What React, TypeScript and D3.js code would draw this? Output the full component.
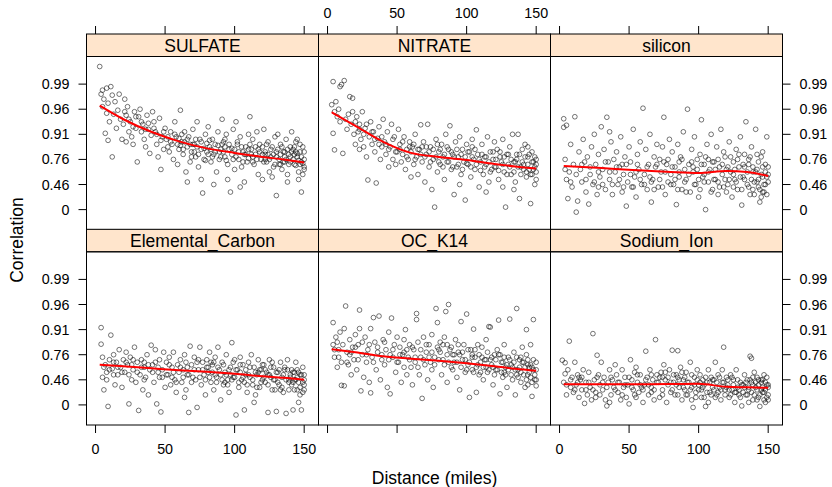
import React from "react";
import * as d3 from "d3";

// Distance (miles) vs Fisher-z of the correlation, one list per species
const panelNames = ["SULFATE", "NITRATE", "silicon", "Elemental_Carbon", "OC_K14", "Sodium_Ion"];
const distanceTicks = [0, 50, 100, 150];
const zTicks = [0, 0.5, 1, 1.5, 2, 2.5];
const zTickLabels = ["0", "0.46", "0.76", "0.91", "0.96", "0.99"];

// smoother
const smoothX = [3, 20, 40, 60, 80, 100, 120, 135, 150];
const sulfateSmooth = [2.07, 1.8, 1.55, 1.36, 1.22, 1.13, 1.05, 1.0, 0.94];
const nitrateSmooth = [1.94, 1.67, 1.35, 1.13, 1.05, 0.99, 0.91, 0.86, 0.82];
const siliconSmooth = [0.87, 0.845, 0.81, 0.78, 0.75, 0.73, 0.77, 0.75, 0.67];
const ecSmooth = [0.8, 0.77, 0.73, 0.69, 0.66, 0.62, 0.57, 0.54, 0.5];
const ocSmooth = [1.11, 1.05, 0.97, 0.92, 0.88, 0.83, 0.77, 0.72, 0.68];
const sodiumSmooth = [0.41, 0.41, 0.41, 0.41, 0.415, 0.42, 0.36, 0.35, 0.34];

const sulfatePts = [
  [3,2.85],[4,2.3],[5,2.38],[5,2.05],[6,2.2],[7,1.52],[8,1.92],[8,2.42],[9,2.12],[10,1.75],[9,1.38],[12,1.05],
  [11,2.45],[12,2.28],[13,1.9],[14,2.15],[15,1.62],[16,1.98],[17,2.3],[18,1.8],[19,1.4],[20,1.7],
  [21,2.2],[22,1.88],[23,2.05],[24,1.55],[25,1.75],[26,1.45],[27,1.3],[28,1.95],[29,1.62],[30,0.95],[22,1.35],
  [31,1.85],[32,2.0],[33,1.55],[34,1.7],[35,1.4],[36,1.25],[37,1.88],[38,1.6],[39,1.12],[40,1.48],
  [41,1.95],[42,1.75],[43,1.55],[44,1.3],[45,1.05],[46,1.82],[47,0.8],[48,1.45],[49,1.2],[50,1.62],
  [51,1.4],[52,1.25],[53,1.15],[54,1.55],[55,1.3],[56,1.0],[57,1.75],[58,1.45],[59,0.9],[60,1.2],
  [61,1.98],[62,1.35],[63,1.1],[64,1.55],[65,0.75],[66,1.25],[67,1.45],[68,0.95],[69,1.15],[70,1.6],[66,0.55],
  [71,1.3],[72,1.05],[73,1.75],[74,0.85],[75,1.4],[76,1.2],[77,0.33],[78,1.0],[79,1.5],[80,1.15],[76,0.6],
  [81,1.65],[82,1.25],[83,0.95],[84,1.4],[85,1.1],[86,1.3],[87,0.75],[88,1.55],[89,1.0],[90,1.2],[85,0.5],
  [91,1.8],[92,1.35],[93,1.05],[94,1.5],[95,0.9],[96,1.2],[97,0.35],[98,1.1],[99,1.6],[100,0.8],[95,0.6],[93,1.25],
  [101,1.75],[102,1.3],[103,1.0],[104,1.45],[105,0.85],[106,1.15],[107,0.55],[108,1.25],[109,0.95],[110,1.5],[104,0.45],[107,1.1],
  [111,1.85],[112,1.2],[113,1.4],[114,0.9],[115,1.1],[116,1.55],[117,0.7],[118,1.3],[119,1.0],[120,0.6],[113,1.05],[117,1.2],
  [121,1.6],[122,1.15],[123,0.95],[124,1.35],[125,0.75],[126,1.05],[127,1.25],[128,0.85],[129,1.45],[130,0.28],[124,1.1],[127,0.65],[122,1.0],
  [131,1.5],[132,1.0],[133,1.3],[134,0.8],[135,1.15],[136,0.95],[137,1.4],[138,0.7],[139,1.1],[140,1.25],[133,0.9],[136,1.05],[138,0.55],
  [141,1.55],[142,1.2],[143,0.9],[144,1.35],[145,1.05],[146,0.75],[147,1.15],[148,0.95],[149,1.25],[150,0.85],[143,1.1],[146,0.6],[148,0.35],[150,1.0],[145,1.4],[149,0.7],
  [21,1.95],[24,1.8],[27,1.65],[29,1.85],[33,1.75],[36,1.6],[38,1.72],[42,1.62],[44,1.5],[47,1.38],[49,1.55],[52,1.45],[54,1.35],[57,1.5],[59,1.3],
  [60,1.42],[61,1.28],[62,1.5],[63,1.2],[64,1.35],[66,1.4],[68,1.3],[69,1.05],
  [70,1.3],[71,1.15],[72,1.4],[73,1.25],[74,1.1],[76,1.35],[78,1.22],[79,0.98],
  [80,1.32],[81,1.1],[82,1.38],[83,1.2],[84,1.05],[86,1.15],[88,1.28],[89,1.15],
  [90,1.05],[91,1.3],[92,1.15],[93,1.4],[94,0.98],[96,1.3],[98,1.22],[99,1.0],
  [100,1.2],[101,1.05],[102,1.35],[103,1.15],[105,1.25],[106,0.95],[108,1.1],[110,1.2],
  [110,1.02],[111,1.3],[112,1.1],[113,0.95],[115,1.25],[116,1.0],[118,1.15],[120,1.1],
  [120,1.25],[121,0.95],[122,1.1],[123,1.3],[125,1.0],[126,1.2],[128,1.1],[129,0.9],[130,1.15],
  [130,1.05],[131,1.2],[132,0.9],[133,1.1],[134,1.25],[135,0.95],[136,1.15],[137,1.0],[138,1.2],[139,0.9],[140,1.05],
  [140,0.95],[141,1.15],[142,1.0],[143,1.25],[144,0.88],[145,1.12],[146,0.98],[147,1.3],[148,1.05],[149,0.92],[150,1.15],[150,0.8],[147,0.9],[144,1.15],
];

const nitratePts = [
  [3,2.09],[4,2.55],[5,1.95],[6,2.15],[7,1.85],[8,2.0],[4,1.52],[5,1.19],[9,1.75],[10,2.49],[9,2.45],
  [11,1.12],[12,2.57],[13,1.8],[14,1.6],[15,1.9],[16,2.25],[17,1.7],[18,2.22],[19,1.5],[20,1.3],[18,1.95],
  [21,1.85],[22,1.55],[23,1.7],[24,1.4],[25,1.95],[26,1.25],[27,1.62],[28,1.05],[29,0.59],[30,1.45],[23,1.2],
  [31,1.75],[32,1.3],[33,1.55],[34,1.15],[35,0.53],[36,1.42],[37,1.65],[38,1.0],[39,1.25],[40,1.8],
  [41,1.35],[42,1.1],[43,1.55],[44,0.85],[45,1.25],[46,1.7],[47,1.0],[48,1.45],[49,0.9],[50,1.15],
  [51,1.6],[52,1.3],[53,0.95],[54,1.1],[55,1.45],[56,0.8],[57,1.2],[58,1.0],[59,1.35],[60,0.65],
  [61,1.25],[62,0.9],[63,1.5],[64,1.05],[65,0.7],[66,1.2],[67,1.69],[68,0.95],[69,1.35],[70,0.55],
  [71,1.1],[72,1.7],[73,0.85],[74,1.25],[75,0.4],[76,1.0],[77,0.05],[78,1.4],[79,0.75],[80,1.15],
  [81,0.9],[82,1.3],[83,1.05],[84,0.6],[85,1.5],[86,0.95],[87,1.2],[88,1.67],[89,0.8],[90,1.1],
  [91,0.3],[92,1.35],[93,0.85],[94,1.05],[95,1.45],[96,0.7],[97,1.2],[98,0.95],[99,0.19],[100,1.3],[95,0.5],
  [101,0.9],[102,1.15],[103,0.65],[104,1.4],[105,1.0],[106,0.8],[107,1.59],[108,1.1],[109,0.45],[110,0.95],[104,1.25],
  [111,1.3],[112,0.7],[113,1.05],[114,0.9],[115,1.45],[116,0.55],[117,1.15],[118,0.8],[119,1.0],[120,1.35],[114,0.35],
  [121,0.85],[122,1.2],[123,0.6],[124,1.05],[125,0.95],[126,1.4],[127,0.75],[128,0.05],[129,1.1],[130,0.9],[126,0.45],
  [131,1.25],[132,0.7],[133,1.5],[134,0.95],[135,0.55],[136,1.1],[137,1.5],[138,0.22],[139,0.85],[140,1.2],[134,0.4],[136,1.0],
  [141,0.9],[142,1.3],[143,0.65],[144,1.05],[145,0.8],[146,0.12],[147,1.15],[148,0.95],[149,0.5],[150,1.0],[144,1.25],[147,0.7],[149,0.85],[150,0.6],
  [20,1.75],[23,1.6],[26,1.5],[28,1.7],[32,1.55],[34,1.4],[37,1.3],[39,1.45],[42,1.3],[44,1.2],[47,1.4],[49,1.15],[52,1.2],[54,1.35],[57,1.05],[59,1.25],
  [60,1.15],[62,1.3],[63,1.0],[65,1.2],[67,1.1],[68,1.25],[70,1.05],[71,1.25],[73,1.15],[74,0.95],[76,1.2],[78,1.05],[79,1.3],
  [80,0.95],[81,1.2],[83,0.85],[84,1.1],[86,1.25],[87,0.95],[89,1.15],[90,0.85],[91,1.05],[93,1.2],[94,0.9],[96,1.1],[97,0.8],[99,1.05],
  [100,0.92],[101,1.15],[103,0.85],[104,1.05],[106,1.2],[107,0.9],[109,1.0],[110,0.78],[111,1.1],[113,0.85],[114,1.05],[116,0.95],[117,0.75],[119,1.15],
  [120,0.85],[121,1.0],[123,0.78],[124,1.15],[126,0.9],[127,1.05],[129,0.7],[130,1.1],[131,0.85],[132,1.0],[134,0.75],[135,0.95],[137,0.85],[138,1.1],[139,0.7],
  [140,0.95],[141,0.8],[142,1.05],[143,0.75],[144,0.9],[145,1.1],[146,0.7],[147,0.95],[148,0.8],[149,1.05],[150,0.75],[150,0.9],
];

const siliconPts = [
  [3,1.81],[3,1.64],[4,1.0],[5,0.6],[6,0.22],[7,0.75],[8,1.3],[9,0.45],[10,0.9],[5,1.68],
  [11,1.85],[12,-0.05],[13,0.17],[14,1.15],[15,0.8],[16,0.55],[17,1.4],[18,0.95],[19,0.35],[20,1.05],[21,0.11],
  [22,0.7],[23,1.25],[24,0.5],[25,1.5],[26,0.9],[27,0.3],[28,1.1],[29,0.65],[30,1.65],[28,0.45],
  [31,0.8],[32,1.2],[33,0.4],[34,1.84],[35,0.95],[36,0.6],[37,1.35],[38,0.3],[39,1.0],[40,0.75],[36,1.55],
  [41,1.15],[42,0.5],[43,0.85],[44,1.45],[45,0.35],[46,0.7],[47,1.05],[48,0.07],[49,0.55],[50,1.25],[45,0.9],
  [51,0.95],[52,0.45],[53,1.6],[54,0.65],[55,0.25],[56,1.1],[57,0.8],[58,1.35],[59,0.5],[60,2.02],[55,0.75],
  [61,0.7],[62,1.2],[63,0.4],[64,0.9],[65,1.5],[66,0.15],[67,0.6],[68,1.05],[69,0.85],[70,1.3],[66,0.55],
  [71,0.45],[72,1.0],[73,0.75],[74,1.25],[75,1.84],[76,0.3],[77,0.9],[78,0.55],[79,1.4],[80,0.7],[75,0.95],
  [81,1.15],[82,0.5],[83,0.85],[84,0.1],[85,1.3],[86,0.65],[87,1.05],[88,0.4],[89,1.55],[90,0.8],[86,0.95],
  [91,0.6],[92,2.0],[93,0.9],[94,0.35],[95,1.2],[96,0.75],[97,1.45],[98,0.5],[99,1.0],[100,0.25],[96,0.85],
  [101,1.1],[102,1.79],[103,0.65],[104,0.9],[105,0.0],[106,1.3],[107,0.55],[108,0.8],[109,1.5],[110,0.4],[104,0.7],[107,1.0],
  [111,0.95],[112,0.6],[113,1.25],[114,0.3],[115,0.85],[116,1.6],[117,0.7],[118,0.45],[119,1.05],[120,0.8],[114,0.55],[118,1.15],
  [121,0.5],[122,1.35],[123,0.75],[124,0.25],[125,0.95],[126,0.6],[127,1.2],[128,0.4],[129,0.85],[130,1.45],[125,0.7],[128,1.0],
  [131,0.09],[132,0.65],[133,1.1],[134,1.75],[135,0.5],[136,0.9],[137,0.3],[138,1.25],[139,0.75],[140,0.55],[133,0.85],[136,1.0],[139,0.4],
  [141,1.6],[142,0.8],[143,0.45],[144,0.15],[145,1.05],[146,0.65],[147,0.35],[148,0.9],[149,1.45],[150,0.7],[143,0.6],[146,1.15],[148,0.5],[150,0.85],[145,0.25],
  [4,0.8],[8,0.55],[12,0.7],[16,0.9],[19,0.6],[22,0.85],[25,0.55],[28,0.75],[31,0.5],[33,0.95],[36,0.75],[38,0.5],[41,0.85],[43,0.6],[46,0.45],[48,0.9],
  [51,0.7],[53,0.45],[56,0.9],[58,0.6],[61,0.5],[63,0.85],[65,0.65],[68,0.4],[70,0.9],[72,0.6],[74,0.45],[76,0.75],[78,1.0],[80,0.5],
  [81,0.85],[83,0.6],[85,0.4],[86,0.75],[88,1.0],[90,0.55],[91,0.35],[93,0.7],[95,0.95],[97,0.5],[99,0.8],[100,0.6],
  [101,0.4],[102,0.9],[104,0.55],[105,1.05],[107,0.75],[109,0.35],[110,0.95],[111,0.6],[112,0.8],[114,1.0],[115,0.45],[117,0.9],[119,0.6],[120,0.35],
  [121,0.85],[122,0.6],[123,1.05],[125,0.45],[126,0.8],[127,0.55],[129,1.1],[130,0.65],[131,0.4],[132,0.9],[133,0.6],[135,0.75],[136,0.45],[137,1.05],[138,0.6],[139,0.85],[140,0.3],
  [141,0.75],[142,0.55],[143,0.95],[144,0.4],[145,0.7],[146,0.85],[147,0.5],[148,0.75],[149,0.3],[150,0.55],[142,1.1],[146,0.35],[149,0.65],
];

const ecPts = [
  [4,1.54],[4,1.21],[5,0.95],[5,0.55],[6,0.3],[7,0.8],[8,0.65],[9,-0.03],[10,0.9],[8,0.5],
  [11,1.39],[12,0.72],[13,1.0],[14,0.4],[15,0.85],[16,0.6],[17,1.1],[18,0.75],[19,0.35],[20,0.9],[13,0.6],
  [21,0.65],[22,1.05],[23,0.8],[24,0.02],[25,0.95],[26,0.5],[27,0.7],[28,1.15],[29,0.45],[30,0.85],[26,0.8],
  [31,-0.11],[32,0.6],[33,0.9],[34,0.3],[35,0.75],[36,0.55],[37,1.0],[38,0.2],[39,0.7],[40,1.19],[35,0.85],
  [41,0.8],[42,0.45],[43,1.1],[44,0.02],[45,0.65],[46,0.9],[47,-0.14],[48,0.55],[49,1.05],[50,0.35],[45,0.75],
  [51,0.85],[52,0.6],[53,0.95],[54,0.4],[55,0.75],[56,1.05],[57,0.5],[58,0.25],[59,0.8],[60,0.65],[55,0.55],
  [61,0.9],[62,0.45],[63,0.7],[64,1.0],[65,0.3],[66,0.6],[67,-0.15],[68,1.17],[69,0.8],[70,0.55],[64,0.15],[66,0.75],
  [71,0.95],[72,0.5],[73,-0.05],[74,0.7],[75,1.15],[76,0.4],[77,0.85],[78,0.6],[79,0.2],[80,0.75],[74,0.9],
  [81,0.65],[82,1.05],[83,0.45],[84,0.8],[85,0.3],[86,0.95],[87,0.55],[88,1.15],[89,0.7],[90,0.1],[83,0.85],[86,0.6],
  [91,0.85],[92,0.4],[93,0.65],[94,1.0],[95,0.5],[96,0.25],[97,0.75],[98,1.24],[99,0.55],[100,0.9],[93,0.45],[97,0.6],
  [101,-0.2],[102,0.7],[103,0.35],[104,0.95],[105,0.5],[106,0.8],[107,-0.1],[108,0.6],[109,0.25],[110,0.85],[104,0.65],[107,0.45],
  [111,0.55],[112,1.0],[113,0.4],[114,0.75],[115,0.2],[116,0.6],[117,0.9],[118,0.35],[119,0.7],[120,0.5],[114,0.05],[117,0.65],
  [121,0.8],[122,0.45],[123,0.65],[124,-0.15],[125,0.9],[126,0.55],[127,0.3],[128,0.75],[129,0.5],[130,-0.13],[124,0.6],[127,0.85],
  [131,0.65],[132,0.4],[133,0.85],[134,0.55],[135,0.25],[136,0.7],[137,-0.17],[138,0.9],[139,0.45],[140,0.6],[133,0.3],[136,0.75],[139,0.5],
  [141,0.7],[142,-0.1],[143,0.5],[144,0.85],[145,0.3],[146,0.05],[147,0.6],[148,-0.1],[149,0.75],[150,0.4],[143,0.65],[145,0.55],[147,0.2],[149,0.45],[150,0.6],
  [6,0.75],[10,0.7],[13,0.85],[16,0.75],[19,0.65],[22,0.85],[24,0.6],[27,0.9],[30,0.65],[33,0.75],[35,0.5],[38,0.8],[41,0.65],[43,0.85],[46,0.55],[48,0.7],
  [51,0.6],[53,0.8],[56,0.65],[58,0.45],[61,0.75],[63,0.55],[65,0.85],[67,0.6],[69,0.45],[71,0.7],[73,0.85],[75,0.55],[77,0.7],[79,0.5],
  [80,0.9],[81,0.75],[82,0.55],[84,0.65],[85,0.85],[87,0.45],[88,0.75],[90,0.6],[91,0.5],[92,0.8],[94,0.6],[95,0.4],[96,0.7],[98,0.5],[99,0.85],
  [100,0.55],[101,0.7],[103,0.45],[104,0.8],[106,0.55],[108,0.7],[109,0.4],[110,0.6],[111,0.75],[113,0.5],[115,0.65],[116,0.35],[118,0.7],[119,0.45],[120,0.8],
  [121,0.55],[122,0.7],[124,0.4],[125,0.6],[126,0.75],[128,0.5],[129,0.3],[130,0.65],[131,0.45],[132,0.7],[134,0.35],[135,0.6],[137,0.5],[138,0.7],[139,0.3],
  [140,0.55],[141,0.4],[142,0.65],[143,0.3],[144,0.5],[145,0.7],[146,0.45],[147,0.35],[148,0.6],[149,0.25],[150,0.5],[150,0.3],[146,0.65],[142,0.45],
];

const ocPts = [
  [4,1.64],[4,1.2],[5,0.95],[6,1.35],[7,0.75],[8,1.1],[9,1.45],[10,0.39],[10,0.85],[7,1.25],
  [12,0.38],[12,1.52],[13,1.97],[14,1.05],[15,0.8],[16,1.3],[17,0.6],[18,1.15],[19,0.9],[20,1.4],[16,1.0],
  [21,0.7],[22,1.2],[23,1.89],[23,1.52],[24,0.28],[25,1.0],[26,0.55],[27,1.35],[28,0.85],[29,1.1],[30,0.45],
  [31,1.52],[31,0.24],[32,0.95],[33,1.74],[34,1.25],[35,0.7],[36,1.05],[37,1.77],[38,0.5],[39,0.9],[40,1.3],
  [41,0.8],[42,1.1],[43,0.35],[44,1.45],[45,0.22],[46,1.73],[47,0.95],[48,1.2],[49,0.65],[50,1.35],[45,1.0],
  [51,0.85],[52,1.15],[53,0.45],[54,1.0],[55,1.3],[56,1.5],[57,0.6],[58,0.95],[59,1.2],[60,0.75],[55,1.05],
  [61,0.4],[62,1.1],[63,0.85],[64,1.82],[64,1.7],[65,1.25],[66,0.6],[67,0.95],[68,0.13],[69,1.35],[70,0.8],
  [71,1.05],[72,0.5],[73,1.2],[74,0.85],[75,1.4],[76,0.35],[77,0.95],[78,1.92],[79,1.64],[80,1.1],[75,0.7],
  [81,1.25],[82,0.6],[83,0.9],[84,1.35],[85,1.86],[86,0.45],[87,2.0],[88,1.1],[89,0.75],[90,1.0],[86,1.2],
  [91,0.85],[92,1.3],[93,0.55],[94,1.05],[95,0.3],[96,1.66],[97,0.9],[98,1.2],[99,0.65],[100,1.81],[95,1.0],
  [101,0.8],[102,0.15],[103,1.1],[104,0.7],[105,1.51],[106,0.95],[107,0.25],[108,1.2],[109,0.6],[110,0.85],[104,1.0],[107,0.75],
  [111,1.15],[112,0.5],[113,0.9],[114,1.3],[115,0.65],[116,1.56],[117,1.55],[118,0.8],[119,0.4],[120,1.0],[114,0.75],[117,0.9],
  [121,0.7],[122,1.1],[123,1.69],[124,0.22],[125,0.85],[126,0.55],[127,1.2],[128,0.75],[129,0.35],[130,0.95],[124,1.0],[127,0.65],
  [131,1.71],[132,0.8],[133,0.5],[134,1.05],[135,0.2],[136,1.92],[137,0.7],[138,0.9],[139,0.45],[140,1.15],[133,0.75],[136,0.6],[139,0.95],
  [141,0.85],[142,0.35],[143,1.0],[144,0.6],[145,0.75],[146,1.2],[147,0.17],[148,1.7],[148,0.9],[149,0.5],[150,0.38],[150,0.7],[144,0.8],[146,0.55],[143,1.5],
  [5,1.1],[8,0.95],[11,1.2],[14,0.85],[17,1.05],[20,1.15],[22,0.9],[25,1.25],[28,1.0],[30,1.2],[33,0.85],[36,1.15],[39,1.0],[41,1.25],[44,0.9],[47,1.1],
  [50,0.85],[52,1.0],[55,0.75],[57,1.1],[59,0.9],[61,1.15],[63,0.95],[65,0.75],[67,1.1],[69,0.9],[71,1.2],[73,0.95],[75,1.05],[77,0.8],[79,1.15],
  [80,0.9],[81,1.05],[83,1.2],[84,0.8],[86,1.0],[87,0.85],[89,1.15],[90,0.7],[91,1.0],[93,0.85],[94,1.2],[96,0.75],[97,1.05],[99,0.9],
  [100,0.7],[101,1.1],[102,0.85],[104,0.95],[105,0.65],[106,1.1],[108,0.8],[109,1.0],[110,0.65],[111,0.95],[112,0.75],[114,0.9],[115,1.05],[116,0.7],[118,0.95],[119,0.75],[120,0.6],
  [121,0.9],[122,0.7],[123,1.0],[125,0.65],[126,0.85],[127,0.95],[128,0.6],[129,0.8],[130,0.7],[131,0.9],[132,0.6],[134,0.85],[135,0.7],[136,0.95],[137,0.55],[138,0.75],[139,0.65],
  [140,0.85],[141,0.6],[142,0.75],[143,0.5],[144,0.9],[145,0.65],[146,0.8],[147,0.45],[148,0.7],[149,0.6],[150,0.85],[150,0.5],[147,0.75],[144,0.4],
];

const sodiumPts = [
  [2,0.89],[3,0.45],[4,0.62],[5,0.2],[6,0.7],[7,1.27],[8,0.35],[9,0.55],[10,0.25],[4,0.84],
  [11,0.85],[12,0.4],[13,0.6],[14,0.15],[15,0.5],[16,0.3],[17,0.7],[18,0.03],[19,0.45],[20,0.2],[14,0.55],
  [21,0.65],[22,0.35],[23,0.1],[24,1.42],[25,0.5],[26,0.25],[27,0.99],[28,0.6],[29,0.4],[30,0.85],[26,0.15],
  [31,0.3],[32,0.55],[33,0.1],[34,-0.02],[35,0.45],[36,0.7],[37,0.2],[38,0.5],[39,0.35],[40,0.8],[36,0.05],
  [41,0.6],[42,0.25],[43,0.45],[44,0.1],[45,0.7],[46,0.35],[47,0.55],[48,0.15],[49,0.4],[50,0.02],[51,0.9],
  [52,0.5],[53,0.3],[54,0.65],[55,0.15],[56,0.45],[57,0.25],[58,0.6],[59,0.35],[60,0.05],[55,0.75],
  [61,0.4],[62,1.07],[63,0.55],[64,0.2],[65,0.7],[66,0.35],[67,0.5],[68,0.1],[69,1.3],[70,0.6],[66,0.25],
  [71,0.45],[72,0.15],[73,0.65],[74,0.3],[75,0.8],[76,0.5],[77,0.05],[78,0.4],[79,0.7],[80,0.25],[74,0.55],
  [81,1.09],[82,0.45],[83,0.2],[84,0.6],[85,1.08],[86,0.35],[87,0.75],[88,0.1],[89,0.5],[90,0.3],[85,0.55],
  [91,0.65],[92,0.2],[93,0.45],[94,0.85],[95,0.35],[96,-0.05],[97,0.55],[98,0.25],[99,0.7],[100,0.4],[95,0.1],
  [101,0.6],[102,0.3],[103,0.5],[104,0.15],[105,-0.03],[106,0.45],[107,0.7],[108,0.25],[109,0.55],[110,0.35],[104,0.4],[107,0.05],
  [111,0.5],[112,0.85],[113,0.2],[114,0.6],[115,0.35],[116,0.1],[117,0.45],[118,1.15],[119,0.3],[120,0.55],[114,0.25],[117,0.7],
  [121,0.4],[122,0.15],[123,0.6],[124,0.3],[125,0.5],[126,0.05],[127,0.7],[128,0.35],[129,0.2],[130,0.45],[124,0.55],[127,0.25],
  [131,-0.02],[132,0.4],[133,0.6],[134,0.2],[135,0.5],[136,0.3],[137,0.97],[138,0.45],[139,0.1],[140,0.65],[133,0.35],[136,0.05],[139,0.55],[138,0.93],
  [141,0.35],[142,0.55],[143,0.15],[144,-0.03],[145,0.45],[146,0.25],[147,0.6],[148,0.05],[149,0.4],[150,0.2],[143,0.5],[145,0.3],[147,0.1],[149,0.55],[150,0.35],
  [5,0.4],[8,0.5],[11,0.3],[13,0.45],[16,0.55],[19,0.3],[21,0.45],[24,0.3],[27,0.55],[29,0.2],[31,0.45],[34,0.35],[37,0.55],[40,0.3],[42,0.45],[45,0.2],[47,0.4],
  [50,0.55],[52,0.35],[54,0.2],[56,0.6],[58,0.4],[60,0.3],[62,0.5],[64,0.4],[66,0.6],[68,0.3],[70,0.45],[72,0.55],[74,0.2],[76,0.65],[78,0.55],[80,0.45],
  [81,0.3],[82,0.6],[84,0.4],[85,0.2],[86,0.5],[88,0.65],[89,0.35],[90,0.55],[91,0.2],[92,0.45],[94,0.3],[95,0.6],[97,0.4],[98,0.15],[99,0.5],
  [100,0.3],[101,0.45],[102,0.15],[103,0.35],[105,0.55],[106,0.25],[108,0.45],[109,0.2],[110,0.5],[111,0.3],[112,0.15],[113,0.45],[115,0.55],[116,0.3],[118,0.45],[119,0.2],[120,0.35],
  [121,0.5],[122,0.3],[123,0.2],[125,0.4],[126,0.25],[128,0.5],[129,0.3],[130,0.15],[131,0.4],[132,0.25],[134,0.45],[135,0.2],[136,0.35],[137,0.5],[138,0.25],[139,0.4],[140,0.2],
  [141,0.45],[142,0.3],[143,0.4],[144,0.2],[145,0.5],[146,0.35],[147,0.25],[148,0.45],[149,0.15],[150,0.4],[150,0.1],[146,0.5],[142,0.1],[148,0.3],
];

const panelPoints = [sulfatePts, nitratePts, siliconPts, ecPts, ocPts, sodiumPts];
const panelSmooth = [sulfateSmooth, nitrateSmooth, siliconSmooth, ecSmooth, ocSmooth, sodiumSmooth];

const font = "'Liberation Sans', Arial, Helvetica, sans-serif";

export default function App() {
  const width = 832;
  const height = 487;
  const colLeft = [86.5, 318.5, 550.5];
  const panelW = 232;
  const stripTop = [34, 229.3];
  const stripH = 22.5;
  const panelH = 173.2;
  const tickLen = 8;

  const x = d3.scaleLinear().domain([-6.5, 160.3]).range([0, panelW]);
  const y = d3.scaleLinear().domain([-0.4, 3.05]).range([panelH, 0]);
  const line = d3
    .line<number>()
    .x((d, i) => x(smoothX[i]))
    .y(d => y(d))
    .curve(d3.curveMonotoneX);

  return (
    <svg
      width={width}
      height={height}
      style={{ position: "absolute", left: 0, top: 0, background: "#fff" }}
      fontFamily={font}
    >
      {panelNames.map((name, i) => {
        const row = Math.floor(i / 3);
        const col = i % 3;
        const left = colLeft[col];
        const sTop = stripTop[row];
        const top = sTop + stripH;
        return (
          <g key={name}>
            {/* strip */}
            <rect x={left} y={sTop} width={panelW} height={stripH} fill="#ffe5cc" stroke="#000" strokeWidth={1} />
            <text x={left + panelW / 2} y={sTop + 17.5} textAnchor="middle" fontSize={17.5} fill="#000">
              {name}
            </text>
            <g transform={`translate(${left},${top})`}>
              {panelPoints[i].map((p, k) => (
                <circle
                  key={k}
                  cx={x(p[0])}
                  cy={y(p[1])}
                  r={2.35}
                  fill="none"
                  stroke="#000"
                  strokeOpacity={0.6}
                  strokeWidth={0.9}
                />
              ))}
              <path d={line(panelSmooth[i]) || ""} fill="none" stroke="#ff0000" strokeWidth={2} />
              <rect x={0} y={0} width={panelW} height={panelH} fill="none" stroke="#000" strokeWidth={1} />

              {/* top axis (upper row) */}
              {row === 0 &&
                distanceTicks.map(t => (
                  <g key={"t" + t}>
                    <line x1={x(t)} x2={x(t)} y1={-stripH} y2={-stripH - tickLen} stroke="#000" />
                    {col === 1 && (
                      <text x={x(t)} y={-stripH - 16} textAnchor="middle" fontSize={14.3}>
                        {t}
                      </text>
                    )}
                  </g>
                ))}

              {/* bottom axis (lower row) */}
              {row === 1 &&
                distanceTicks.map(t => (
                  <g key={"b" + t}>
                    <line x1={x(t)} x2={x(t)} y1={panelH} y2={panelH + tickLen} stroke="#000" />
                    {col !== 1 && (
                      <text x={x(t)} y={panelH + 29} textAnchor="middle" fontSize={14.3}>
                        {t}
                      </text>
                    )}
                  </g>
                ))}

              {/* left axis */}
              {col === 0 &&
                zTicks.map((t, k) => (
                  <g key={"l" + t}>
                    <line x1={0} x2={-tickLen} y1={y(t)} y2={y(t)} stroke="#000" />
                    <text x={-17} y={y(t) + 5} textAnchor="end" fontSize={14.3}>
                      {zTickLabels[k]}
                    </text>
                  </g>
                ))}

              {/* right axis */}
              {col === 2 &&
                zTicks.map((t, k) => (
                  <g key={"r" + t}>
                    <line x1={panelW} x2={panelW + tickLen} y1={y(t)} y2={y(t)} stroke="#000" />
                    <text x={panelW + 17} y={y(t) + 5} textAnchor="start" fontSize={14.3}>
                      {zTickLabels[k]}
                    </text>
                  </g>
                ))}
            </g>
          </g>
        );
      })}

      <text x={434.5} y={484} textAnchor="middle" fontSize={17.5}>
        Distance (miles)
      </text>
      <text transform={`translate(23,240) rotate(-90)`} textAnchor="middle" fontSize={17.5}>
        Correlation
      </text>
    </svg>
  );
}
